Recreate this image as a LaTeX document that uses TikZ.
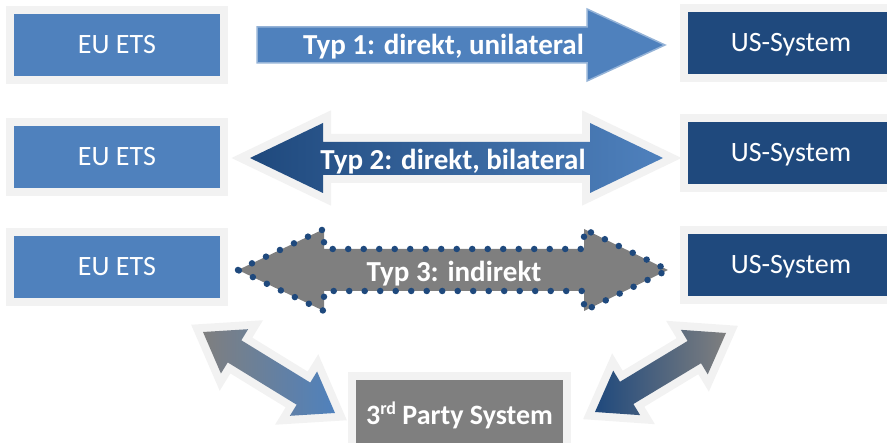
\documentclass[tikz,border=0pt]{standalone}
\usepackage{fontspec}
\setmainfont{Carlito}
\usetikzlibrary{calc}
\definecolor{eublue}{HTML}{4F81BD}
\definecolor{usnavy}{HTML}{1F497D}
\definecolor{midgray}{HTML}{7F7F7F}
\definecolor{framegray}{HTML}{F2F2F2}
\definecolor{lightblue}{HTML}{95B3D7}
\begin{document}
\begin{tikzpicture}[x=1pt,y=-1pt,
  sysbox/.style={rectangle, minimum width=206pt, minimum height=62pt, inner sep=0pt,
    text=white, font=\fontsize{28}{30}\selectfont, text height=18pt, text depth=0pt,
    preaction={draw=framegray, line width=16pt}},
  eubox/.style={sysbox, fill=eublue},
  usbox/.style={sysbox, fill=usnavy},
  thirdbox/.style={sysbox, fill=midgray, minimum width=207pt, minimum height=70pt,
    font=\bfseries\fontsize{28}{30}\selectfont, text height=19pt},
  arrowtext/.style={text=white, font=\bfseries\fontsize{29}{31}\selectfont, anchor=base, inner sep=0pt},
  halo/.style={draw=framegray, line width=16pt, line join=miter},
  dotted border/.style={draw=usnavy, line width=6.5pt, line cap=round, dash pattern=on 0pt off 15.5pt}
]
\useasboundingbox (0,0) rectangle (887,443);

% ---- bottom diagonal arrows ----
\coordinate (la) at (203,332);
\coordinate (lb) at (335,413);
\coordinate (lha) at ($(la)!37pt!(lb)$);
\coordinate (lhb) at ($(lb)!37pt!(la)$);
\shade[left color=midgray, right color=eublue, preaction={halo}]
  (la) -- ($(lha)!26pt!90:(lb)$) -- ($(lha)!13pt!90:(lb)$) -- ($(lhb)!13pt!-90:(la)$)
  -- ($(lhb)!26pt!-90:(la)$) -- (lb) -- ($(lhb)!26pt!90:(la)$) -- ($(lhb)!13pt!90:(la)$)
  -- ($(lha)!13pt!-90:(lb)$) -- ($(lha)!26pt!-90:(lb)$) -- cycle;

\coordinate (ra) at (595,412);
\coordinate (rb) at (726,333);
\coordinate (rha) at ($(ra)!37pt!(rb)$);
\coordinate (rhb) at ($(rb)!37pt!(ra)$);
\shade[left color=usnavy, right color=midgray, preaction={halo}]
  (ra) -- ($(rha)!26pt!90:(rb)$) -- ($(rha)!13pt!90:(rb)$) -- ($(rhb)!13pt!-90:(ra)$)
  -- ($(rhb)!26pt!-90:(ra)$) -- (rb) -- ($(rhb)!26pt!90:(ra)$) -- ($(rhb)!13pt!90:(ra)$)
  -- ($(rha)!13pt!-90:(rb)$) -- ($(rha)!26pt!-90:(rb)$) -- cycle;

% ---- Typ 1 ----
\draw[draw=lightblue, line width=1.5pt, fill=eublue]
  (257,27) -- (587,27) -- (587,9) -- (665,45) -- (587,81) -- (587,63) -- (257,63) -- cycle;
\node[arrowtext] (t1) at (443.5,55) {Typ 1: direkt, unilateral};

% ---- Typ 2 ----
\shade[left color=usnavy, right color=eublue, preaction={halo}]
  (250,158) -- (323,123) -- (323,142) -- (590,142) -- (590,123) -- (663,158)
  -- (590,193) -- (590,175) -- (323,175) -- (323,193) -- cycle;
\node[arrowtext] (t2) at (453,170) {Typ 2: direkt, bilateral};

% ---- Typ 3 ----
\draw[fill=midgray, dotted border]
  (238,270) -- (324,229) -- (324,249) -- (584,249) -- (584,229) -- (668,270)
  -- (584,311) -- (584,291) -- (324,291) -- (324,311) -- cycle;
\node[arrowtext] (t3) at (454,282) {Typ 3: indirekt};

% ---- system boxes ----
\node[eubox] (eu1) at (117,45) {EU ETS};
\node[eubox] (eu2) at (117,157) {EU ETS};
\node[eubox] (eu3) at (117,267) {EU ETS};
\node[usbox] (us1) at (791,43) {US-System};
\node[usbox] (us2) at (791,153) {US-System};
\node[usbox] (us3) at (791,265) {US-System};
\node[thirdbox] (third) at (459.5,415) {3{\fontsize{18}{20}\selectfont\raisebox{10pt}{rd}} Party System};
\end{tikzpicture}
\end{document}
